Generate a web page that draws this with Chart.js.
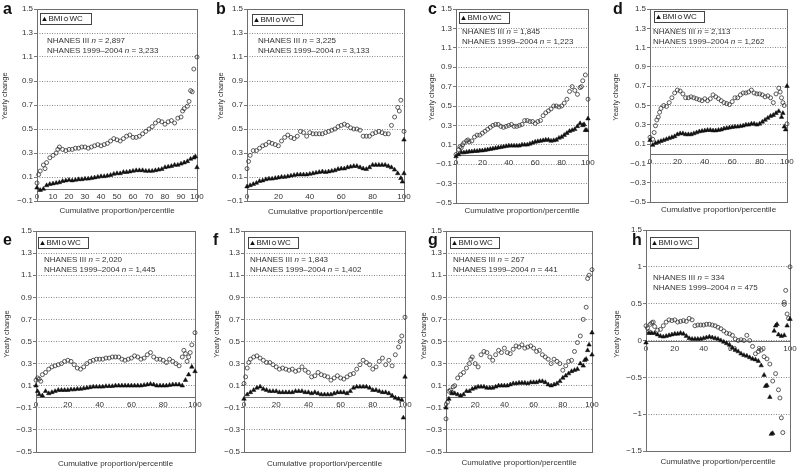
<!DOCTYPE html>
<html>
<head>
<meta charset="utf-8">
<script src="https://cdn.jsdelivr.net/npm/chart.js@4/dist/chart.umd.min.js"></script>
<style>
  html, body { margin: 0; padding: 0; background: #fff; }
  #wrap { position: relative; width: 800px; height: 470px; overflow: hidden; }
  #wrap canvas { position: absolute; left: 0; top: 0; }
</style>
</head>
<body>
<div id="wrap"></div>
<script>
// percentiles shared by every panel
const pct = [0,2,4,6,8,10,12,14,16,18,20,22,24,26,28,30,32,34,36,38,40,42,44,46,48,50,52,54,56,58,60,62,64,66,68,70,72,74,76,78,80,82,84,86,88,90,92,94,96,98,100];

const aBmi = [0.01,-0.01,0.0,0.03,0.04,0.045,0.05,0.055,0.065,0.07, 0.075,0.07,0.075,0.08,0.08,0.085,0.085,0.09,0.095,0.1, 0.105,0.105,0.11,0.115,0.125,0.13,0.13,0.14,0.14,0.145, 0.15,0.155,0.155,0.155,0.15,0.15,0.15,0.155,0.16,0.165, 0.18,0.185,0.19,0.2,0.2,0.21,0.22,0.23,0.25,0.26, 0.18];
const aWc = [0.05,0.15,0.2,0.22,0.26,0.28,0.3,0.35,0.33,0.32, 0.33,0.33,0.34,0.34,0.35,0.35,0.34,0.35,0.36,0.37, 0.36,0.37,0.38,0.4,0.42,0.41,0.4,0.42,0.44,0.45, 0.43,0.43,0.44,0.46,0.48,0.5,0.52,0.55,0.57,0.56, 0.54,0.56,0.57,0.55,0.59,0.6,0.67,0.69,0.82,1.0, 1.1];
const bBmi = [0.02,0.03,0.04,0.05,0.065,0.07,0.08,0.085,0.085,0.09, 0.095,0.1,0.1,0.105,0.11,0.115,0.12,0.12,0.12,0.12, 0.125,0.13,0.135,0.14,0.145,0.14,0.145,0.15,0.155,0.165, 0.17,0.17,0.18,0.185,0.19,0.19,0.18,0.17,0.165,0.18, 0.2,0.2,0.2,0.2,0.2,0.19,0.18,0.16,0.13,0.09, 0.41];
const bWc = [0.17,0.28,0.32,0.32,0.34,0.36,0.37,0.39,0.38,0.37, 0.36,0.4,0.43,0.45,0.43,0.42,0.44,0.48,0.47,0.44, 0.47,0.46,0.46,0.46,0.46,0.47,0.48,0.49,0.5,0.52, 0.53,0.54,0.53,0.51,0.5,0.5,0.49,0.44,0.44,0.44, 0.46,0.47,0.48,0.47,0.46,0.46,0.53,0.6,0.68,0.74, 0.48];
const cBmi = [-0.02,0.0,0.02,0.02,0.025,0.03,0.03,0.035,0.035,0.04, 0.04,0.045,0.05,0.055,0.06,0.065,0.07,0.075,0.08,0.085, 0.09,0.09,0.09,0.09,0.09,0.1,0.1,0.1,0.11,0.12, 0.13,0.135,0.14,0.145,0.15,0.15,0.14,0.145,0.15,0.17, 0.18,0.2,0.22,0.24,0.25,0.26,0.29,0.32,0.3,0.25, 0.37];
const cWc = [0.0,0.05,0.07,0.12,0.14,0.13,0.14,0.18,0.2,0.2, 0.22,0.24,0.26,0.28,0.3,0.31,0.31,0.29,0.28,0.29, 0.3,0.31,0.29,0.29,0.3,0.31,0.35,0.35,0.34,0.34, 0.32,0.34,0.35,0.4,0.43,0.45,0.47,0.5,0.5,0.49, 0.5,0.53,0.57,0.65,0.7,0.66,0.62,0.69,0.76,0.82, 0.57];
const dBmi = [0.14,0.09,0.11,0.12,0.13,0.14,0.15,0.16,0.17,0.18, 0.2,0.21,0.21,0.2,0.2,0.2,0.21,0.22,0.23,0.235, 0.24,0.245,0.245,0.24,0.24,0.245,0.25,0.26,0.265,0.27, 0.275,0.28,0.28,0.285,0.29,0.3,0.3,0.31,0.31,0.3, 0.31,0.33,0.35,0.37,0.39,0.4,0.42,0.44,0.38,0.28, 0.7];
const dWc = [0.17,0.15,0.29,0.38,0.47,0.5,0.49,0.53,0.58,0.63, 0.66,0.65,0.62,0.58,0.58,0.59,0.58,0.57,0.56,0.55, 0.57,0.55,0.57,0.61,0.59,0.57,0.55,0.53,0.52,0.51, 0.54,0.58,0.58,0.61,0.63,0.63,0.64,0.66,0.63,0.62, 0.62,0.61,0.59,0.6,0.58,0.53,0.62,0.68,0.58,0.5, 0.31];
const eBmi = [0.1,0.02,0.01,0.05,0.03,0.04,0.05,0.06,0.06,0.06, 0.06,0.065,0.065,0.07,0.07,0.075,0.08,0.085,0.09,0.09, 0.09,0.09,0.095,0.095,0.095,0.1,0.1,0.1,0.1,0.1, 0.1,0.1,0.1,0.1,0.105,0.11,0.115,0.11,0.1,0.1, 0.1,0.1,0.105,0.11,0.11,0.11,0.1,0.15,0.2,0.27, 0.23];
const eWc = [0.15,0.16,0.2,0.22,0.25,0.27,0.28,0.29,0.3,0.32, 0.33,0.32,0.29,0.26,0.25,0.27,0.3,0.32,0.33,0.34, 0.34,0.34,0.35,0.35,0.36,0.36,0.36,0.34,0.33,0.34, 0.35,0.37,0.36,0.34,0.35,0.38,0.4,0.36,0.34,0.34, 0.33,0.31,0.34,0.32,0.3,0.28,0.36,0.39,0.36,0.47, 0.58];
const fBmi = [-0.02,0.02,0.04,0.06,0.08,0.09,0.07,0.06,0.05,0.05, 0.05,0.04,0.04,0.04,0.04,0.04,0.05,0.05,0.05,0.04, 0.04,0.03,0.04,0.03,0.02,0.02,0.02,0.02,0.03,0.04, 0.04,0.04,0.03,0.05,0.08,0.09,0.09,0.09,0.09,0.08, 0.06,0.06,0.05,0.04,0.04,0.03,0.01,-0.01,-0.02,-0.03, 0.18];
const fWc = [0.12,0.26,0.34,0.36,0.37,0.35,0.33,0.31,0.31,0.29, 0.27,0.25,0.26,0.25,0.24,0.25,0.23,0.24,0.27,0.24, 0.22,0.18,0.19,0.22,0.2,0.19,0.18,0.15,0.17,0.19, 0.17,0.16,0.18,0.2,0.21,0.25,0.29,0.33,0.31,0.29, 0.25,0.27,0.32,0.35,0.29,0.33,0.28,0.38,0.45,0.55, 0.72];
const gBmi = [-0.1,-0.02,0.03,0.03,0.02,0.01,0.02,0.05,0.05,0.07, 0.08,0.09,0.09,0.09,0.08,0.08,0.08,0.09,0.1,0.1, 0.1,0.1,0.11,0.12,0.12,0.125,0.125,0.125,0.12,0.13, 0.13,0.13,0.14,0.14,0.13,0.11,0.1,0.11,0.12,0.14, 0.17,0.19,0.21,0.23,0.24,0.25,0.3,0.28,0.34,0.47, 0.58];
const gWc = [-0.2,0.05,0.04,0.1,0.17,0.2,0.22,0.26,0.3,0.36, 0.3,0.27,0.38,0.41,0.4,0.36,0.33,0.38,0.42,0.4, 0.44,0.4,0.39,0.43,0.46,0.45,0.47,0.44,0.45,0.46, 0.44,0.41,0.42,0.38,0.36,0.34,0.3,0.34,0.32,0.3, 0.24,0.28,0.32,0.33,0.41,0.49,0.55,0.7,0.81,1.1, 1.15];
const hBmi = [-0.03,0.1,0.1,0.1,0.08,0.06,0.05,0.06,0.07,0.08, 0.09,0.09,0.1,0.09,0.06,0.03,0.02,0.02,0.02,0.02, 0.03,0.04,0.05,0.04,0.03,0.02,0.0,-0.02,-0.04,-0.06, -0.1,-0.13,-0.15,-0.18,-0.2,-0.21,-0.23,-0.25,-0.26,-0.28, -0.34,-0.47,-0.61,-0.77,-1.26,0.2,0.08,0.06,0.07,0.2, 0.29];
const hWc = [0.2,0.12,0.24,0.19,0.14,0.15,0.2,0.25,0.28,0.27, 0.28,0.25,0.26,0.27,0.26,0.3,0.28,0.2,0.21,0.21, 0.21,0.22,0.22,0.21,0.2,0.18,0.16,0.13,0.1,0.09, 0.07,0.02,0.0,0.01,0.0,0.07,0.0,-0.08,-0.18,-0.15, -0.13,-0.22,-0.25,-0.32,-0.55,-0.45,-0.67,-1.05,0.52,0.36, 1.0];

// scattered points between the 2-percentile grid: [percentile, value]
const aBmiExtra = [[99, 0.27]];
const aWcExtra = [[1, 0.12], [5, 0.17], [13, 0.33], [91, 0.65], [95, 0.73], [97, 0.81]];
const bBmiExtra = [[99, 0.06], [100, 0.13]];
const bWcExtra = [[1, 0.23], [97, 0.65]];
const cBmiExtra = [[97, 0.31], [99, 0.25]];
const cWcExtra = [[3, 0.08], [5, 0.1], [9, 0.15], [95, 0.7]];
const dBmiExtra = [[97, 0.42], [99, 0.25]];
const dWcExtra = [[3, 0.22], [5, 0.35], [7, 0.43], [95, 0.64], [97, 0.53]];
const eBmiExtra = [[1, 0.05]];
const eWcExtra = [[1, 0.17], [3, 0.14], [93, 0.42], [95, 0.32], [97, 0.4]];
const fBmiExtra = [[99, -0.19]];
const fWcExtra = [[1, 0.18], [3, 0.31], [97, 0.5]];
const gBmiExtra = [[95, 0.33], [97, 0.42], [100, 0.38]];
const gWcExtra = [[1, -0.05], [3, 0.06], [5, 0.09], [17, 0.34], [97, 1.07]];
const hBmiExtra = [[83, -0.62], [87, -1.27], [89, 0.13], [91, 0.22]];
const hWcExtra = [[1, 0.17], [3, 0.22], [5, 0.25], [93, -0.78], [95, -1.25], [96, 0.49], [97, 0.68], [99, 0.3]];

const nIII = ['2,897', '3,225', '1,845', '2,113', '2,020', '1,843', '267', '334'];
const n9904 = ['3,233', '3,133', '1,223', '1,262', '1,445', '1,402', '441', '475'];

const FONT = '"Liberation Sans", Arial, sans-serif';
const YW = 30;   // width reserved for the y scale

// layout: plot box [left, top, right, bottom], y range [min, max, step]
const panels = [
  {key: 'a', bmi: aBmi, wc: aWc, bmiX: aBmiExtra, wcX: aWcExtra, box: [37, 9, 197, 201], y: [-0.1, 1.5, 0.2], xStep: 10, letter: [3, 14], yTitle: [5, 96], legend: [40, 13, 51], note: [47, 41], xTitleY: 211},
  {key: 'b', bmi: bBmi, wc: bWc, bmiX: bBmiExtra, wcX: bWcExtra, box: [247, 9, 404, 201], y: [-0.1, 1.5, 0.2], xStep: 20, letter: [216, 14], yTitle: [221, 96], legend: [252, 14, 50], note: [258, 41], xTitleY: 212},
  {key: 'c', bmi: cBmi, wc: cWc, bmiX: cBmiExtra, wcX: cWcExtra, box: [456, 9, 588, 203], y: [-0.5, 1.5, 0.2], xStep: 20, letter: [428, 14], yTitle: [432, 97], legend: [459, 12, 50], note: [462, 32], xTitleY: 211},
  {key: 'd', bmi: dBmi, wc: dWc, bmiX: dBmiExtra, wcX: dWcExtra, box: [650, 9, 787, 202], y: [-0.5, 1.5, 0.2], xStep: 20, letter: [613, 14], yTitle: [616, 97], legend: [654, 11, 50], note: [653, 32], xTitleY: 210},
  {key: 'e', bmi: eBmi, wc: eWc, bmiX: eBmiExtra, wcX: eWcExtra, box: [36, 231, 195, 452], y: [-0.5, 1.5, 0.2], xStep: 20, letter: [3, 245], yTitle: [7, 334], legend: [38, 237, 50], note: [44, 260], xTitleY: 464},
  {key: 'f', bmi: fBmi, wc: fWc, bmiX: fBmiExtra, wcX: fWcExtra, box: [244, 231, 405, 452], y: [-0.5, 1.5, 0.2], xStep: 20, letter: [213, 245], yTitle: [217, 334], legend: [248, 237, 50], note: [250, 260], xTitleY: 464},
  {key: 'g', bmi: gBmi, wc: gWc, bmiX: gBmiExtra, wcX: gWcExtra, box: [446, 231, 592, 452], y: [-0.5, 1.5, 0.2], xStep: 20, letter: [428, 245], yTitle: [424, 336], legend: [450, 237, 49], note: [453, 260], xTitleY: 463},
  {key: 'h', bmi: hBmi, wc: hWc, bmiX: hBmiExtra, wcX: hWcExtra, box: [646, 230, 790, 451], y: [-1.5, 1.5, 0.5], xStep: 20, letter: [632, 245], yTitle: [617, 334], legend: [650, 237, 48], note: [653, 278], xTitleY: 462}
];

function toPoints(vals, extra) {
  return pct.map((x, i) => ({x: x, y: vals[i]})).concat(extra.map(([x, y]) => ({x: x, y: y})));
}

function fmtTick(v, step) {
  const s = step < 0.5 ? v.toFixed(1) : String(Number(v.toFixed(1)));
  return s.replace('-', '\u2212');
}

function drawRich(ctx, x, y, parts) {
  for (const [text, italic] of parts) {
    ctx.font = (italic ? 'italic ' : '') + '8px ' + FONT;
    ctx.fillText(text, x, y);
    x += ctx.measureText(text).width;
  }
}

function makeDecor(p, idx) {
  return {
    id: 'decor' + p.key,
    beforeDatasetsDraw(chart) {
      const {ctx, chartArea: a} = chart;
      const y0 = Math.round(chart.scales.y.getPixelForValue(0)) + 0.5;
      ctx.save();
      ctx.strokeStyle = '#6e6e6e';
      ctx.lineWidth = 1;
      ctx.strokeRect(Math.round(a.left) + 0.5, Math.round(a.top) + 0.5,
        Math.round(a.right - a.left), Math.round(a.bottom - a.top));
      ctx.beginPath();
      ctx.moveTo(a.left, y0);
      ctx.lineTo(a.right, y0);
      ctx.stroke();
      ctx.restore();
    },
    afterDraw(chart) {
      const {ctx, chartArea: a} = chart;
      ctx.save();
      // panel letter
      ctx.fillStyle = '#111';
      ctx.font = 'bold 16px ' + FONT;
      ctx.textBaseline = 'alphabetic';
      ctx.fillText(p.key, p.letter[0], p.letter[1]);

      // axis titles
      ctx.fillStyle = '#333';
      ctx.font = '7.5px ' + FONT;
      ctx.textAlign = 'center';
      ctx.textBaseline = 'middle';
      ctx.save();
      ctx.translate(p.yTitle[0], p.yTitle[1]);
      ctx.rotate(-Math.PI / 2);
      ctx.fillText('Yearly change', 0, 0);
      ctx.restore();
      ctx.font = '8px ' + FONT;
      ctx.fillText('Cumulative proportion/percentile', (a.left + a.right) / 2, p.xTitleY);

      // legend box
      const [lx, ly, lw] = p.legend;
      const lh = 11;
      const cy = ly + lh / 2 + 0.5;
      ctx.fillStyle = '#fff';
      ctx.fillRect(lx, ly, lw, lh);
      ctx.strokeStyle = '#444';
      ctx.lineWidth = 1;
      ctx.strokeRect(lx + 0.5, ly + 0.5, lw, lh);
      ctx.fillStyle = '#111';
      ctx.beginPath();
      ctx.moveTo(lx + 4.5, cy - 2.3);
      ctx.lineTo(lx + 6.8, cy + 1.9);
      ctx.lineTo(lx + 2.2, cy + 1.9);
      ctx.closePath();
      ctx.fill();
      ctx.strokeStyle = '#333';
      ctx.lineWidth = 0.8;
      ctx.beginPath();
      ctx.arc(lx + 26, cy, 1.8, 0, Math.PI * 2);
      ctx.stroke();
      ctx.fillStyle = '#222';
      ctx.textAlign = 'left';
      ctx.font = '8px ' + FONT;
      ctx.fillText('BMI', lx + 8.5, cy);
      ctx.fillText('WC', lx + 29.5, cy);

      // sample sizes
      ctx.fillStyle = '#333';
      drawRich(ctx, p.note[0], p.note[1], [['NHANES III ', false], ['n', true], [' = ' + nIII[idx], false]]);
      drawRich(ctx, p.note[0], p.note[1] + 10, [['NHANES 1999\u20132004 ', false], ['n', true], [' = ' + n9904[idx], false]]);
      ctx.restore();
    }
  };
}

Chart.defaults.font.family = FONT;
const wrap = document.getElementById('wrap');

panels.forEach((p, idx) => {
  const cv = document.createElement('canvas');
  cv.width = 800;
  cv.height = 470;
  cv.style.width = '800px';
  cv.style.height = '470px';
  wrap.appendChild(cv);
  const [L, T, R, B] = p.box;
  const [ymin, ymax, ystep] = p.y;

  new Chart(cv, {
    type: 'scatter',
    data: {
      datasets: [
        {
          label: 'BMI',
          data: toPoints(p.bmi, p.bmiX),
          pointStyle: 'triangle',
          pointRadius: 2.6,
          backgroundColor: '#111',
          borderColor: '#111',
          borderWidth: 0.5,
          clip: false
        },
        {
          label: 'WC',
          data: toPoints(p.wc, p.wcX),
          pointStyle: 'circle',
          pointRadius: 2,
          backgroundColor: 'rgba(255,255,255,0)',
          borderColor: '#333',
          borderWidth: 0.8,
          clip: false
        }
      ]
    },
    options: {
      responsive: false,
      animation: false,
      devicePixelRatio: 1,
      layout: {padding: {left: L - YW, top: T, right: 800 - R, bottom: 470 - B}},
      plugins: {legend: {display: false}, tooltip: {enabled: false}},
      scales: {
        x: {
          type: 'linear',
          position: {y: 0},
          min: 0,
          max: 100,
          grid: {display: false, drawTicks: false},
          border: {display: false},
          ticks: {stepSize: p.xStep, autoSkip: false, maxRotation: 0, padding: 3, color: '#333', font: {size: 8}}
        },
        y: {
          type: 'linear',
          min: ymin,
          max: ymax,
          afterFit: s => { s.width = YW; },
          grid: {color: '#888', tickLength: 3, tickColor: '#777'},
          border: {display: false, dash: [1, 1.5]},
          ticks: {stepSize: ystep, padding: 1, color: '#333', font: {size: 8}, callback: v => fmtTick(v, ystep)}
        }
      }
    },
    plugins: [makeDecor(p, idx)]
  });
});
</script>
</body>
</html>
